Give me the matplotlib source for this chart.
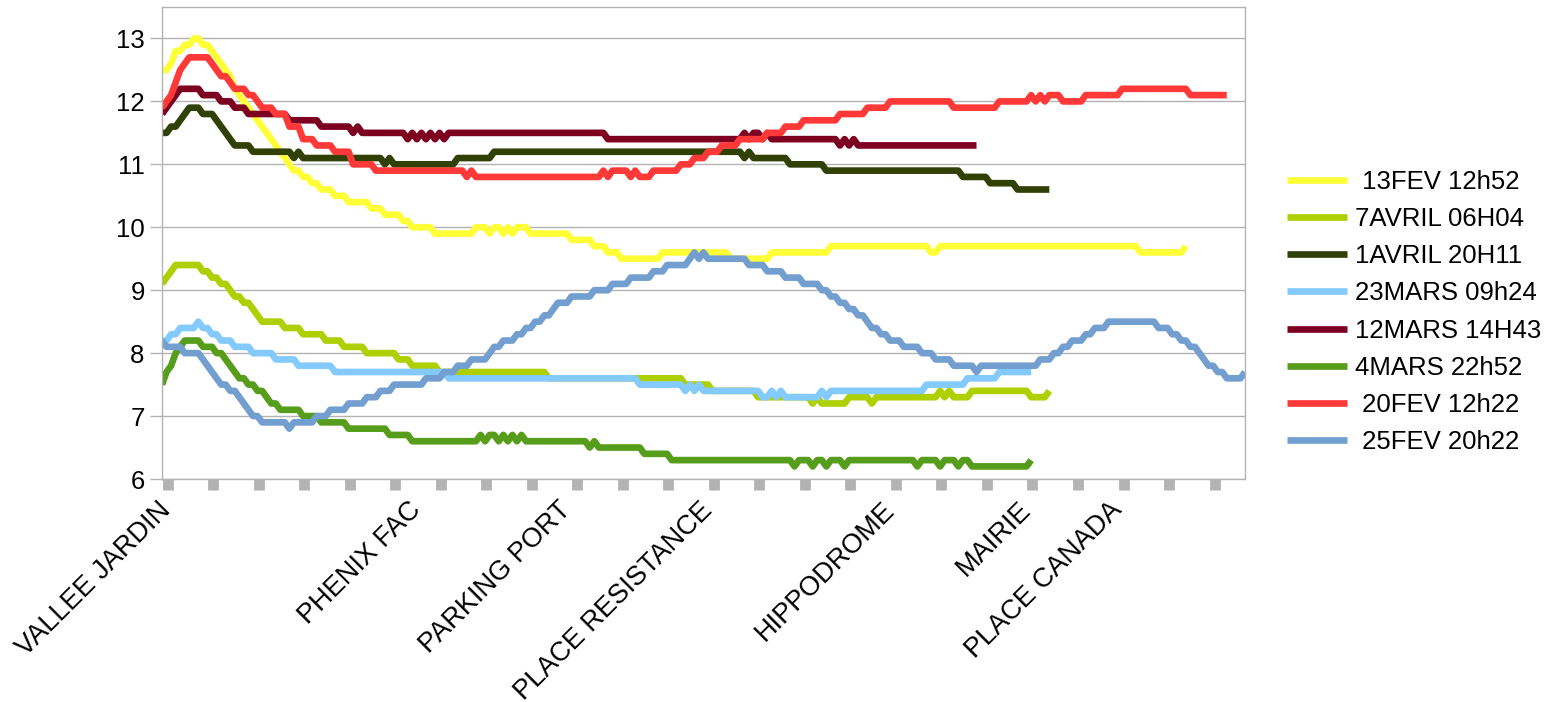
import numpy as np
import matplotlib.pyplot as plt
from matplotlib.transforms import ScaledTranslation

plt.rcParams['font.family'] = ['Liberation Sans', 'DejaVu Sans']

# series names (legend order) and colours
names = [' 13FEV 12h52', '7AVRIL 06H04', '1AVRIL 20H11', '23MARS 09h24',
         '12MARS 14H43', '4MARS 22h52', ' 20FEV 12h22', ' 25FEV 20h22']
colors = ['#ffff38', '#aecf00', '#314004', '#83caff',
          '#7e0021', '#579d1c', '#ff3838', '#729fcf']

# readings along the route, stored as (value, number of samples) runs
fev13_val = [12.5, 12.6, 12.8, 12.9, 13.0, 12.9, 12.8, 12.7, 12.6, 12.5, 12.4, 12.2, 12.1, 12.0,
             11.9, 11.8, 11.7, 11.6, 11.5, 11.4, 11.3, 11.2, 11.1, 11.0, 10.9, 10.8, 10.7, 10.6,
             10.5, 10.4, 10.3, 10.2, 10.1, 10.0, 9.9, 10.0, 9.9, 10.0, 9.9, 10.0, 9.9, 10.0,
             9.9, 9.8, 9.7, 9.6, 9.5, 9.6, 9.5, 9.6, 9.7, 9.6, 9.7, 9.6, 9.7]
fev13_cnt = [2, 1, 2, 2, 2, 2, 1, 1, 1, 1, 1, 1, 1, 1,
             1, 1, 1, 1, 1, 1, 1, 1, 1, 1, 2, 2, 2, 3,
             3, 5, 3, 4, 2, 5, 9, 3, 1, 2, 1, 1, 1, 3,
             9, 5, 3, 3, 9, 15, 9, 13, 22, 2, 44, 10, 1]

avr7_val = [9.1, 9.2, 9.3, 9.4, 9.3, 9.2, 9.1, 9.0, 8.9, 8.8, 8.7, 8.6, 8.5, 8.4, 8.3, 8.2,
            8.1, 8.0, 7.9, 7.8, 7.7, 7.6, 7.5, 7.4, 7.3, 7.2, 7.3, 7.2, 7.3, 7.2, 7.3, 7.4,
            7.3, 7.4, 7.3, 7.4, 7.3, 7.4]
avr7_cnt = [1, 1, 1, 6, 2, 2, 2, 1, 2, 2, 1, 1, 5, 4, 5, 4,
            5, 7, 3, 6, 24, 30, 6, 10, 12, 1, 1, 6, 5, 1, 14, 1,
            1, 1, 4, 13, 4, 1]

avr1_val = [11.5, 11.6, 11.7, 11.8, 11.9, 11.8, 11.7, 11.6, 11.5, 11.4, 11.3, 11.2, 11.1, 11.2,
            11.1, 11.0, 11.1, 11.0, 11.1, 11.2, 11.1, 11.2, 11.1, 11.0, 10.9, 10.8, 10.7, 10.6]
avr1_cnt = [2, 2, 1, 1, 3, 3, 1, 1, 1, 1, 4, 9, 1, 1,
            18, 1, 1, 14, 8, 55, 1, 1, 8, 8, 30, 6, 6, 8]

mars23_val = [8.2, 8.3, 8.4, 8.5, 8.4, 8.3, 8.2, 8.1, 8.0, 7.9, 7.8, 7.7, 7.6, 7.5, 7.4, 7.5,
              7.4, 7.5, 7.4, 7.3, 7.4, 7.3, 7.4, 7.3, 7.4, 7.3, 7.4, 7.5, 7.6, 7.7]
mars23_cnt = [2, 2, 4, 1, 2, 2, 3, 4, 5, 5, 8, 25, 42, 10, 1, 1,
              1, 1, 13, 2, 1, 1, 1, 8, 1, 1, 21, 9, 7, 8]

mars12_val = [11.8, 11.9, 12.0, 12.1, 12.2, 12.1, 12.0, 11.9, 11.8, 11.7, 11.6, 11.5, 11.6, 11.5,
              11.4, 11.5, 11.4, 11.5, 11.4, 11.5, 11.4, 11.5, 11.4, 11.5, 11.4, 11.5, 11.4, 11.5,
              11.4, 11.5, 11.4, 11.3, 11.4, 11.3, 11.4, 11.3]
mars12_cnt = [1, 1, 1, 1, 5, 4, 3, 3, 9, 7, 7, 1, 1, 10,
              1, 1, 1, 1, 1, 1, 1, 1, 1, 35, 30, 1, 1, 2,
              1, 1, 15, 1, 1, 1, 1, 27]

mars4_val = [7.5, 7.7, 7.8, 8.0, 8.1, 8.2, 8.1, 8.0, 7.9, 7.8, 7.7, 7.6, 7.5, 7.4, 7.3, 7.2,
             7.1, 7.0, 6.9, 6.8, 6.7, 6.6, 6.7, 6.6, 6.7, 6.6, 6.7, 6.6, 6.7, 6.6, 6.7, 6.6,
             6.5, 6.6, 6.5, 6.4, 6.3, 6.2, 6.3, 6.2, 6.3, 6.2, 6.3, 6.2, 6.3, 6.2, 6.3, 6.2,
             6.3, 6.2, 6.3, 6.2, 6.3]
mars4_cnt = [1, 1, 1, 1, 1, 4, 3, 2, 1, 1, 1, 2, 2, 2, 1, 2,
             5, 4, 6, 9, 5, 15, 1, 1, 2, 1, 1, 1, 1, 1, 1, 14,
             1, 1, 10, 6, 27, 1, 3, 1, 2, 1, 3, 1, 15, 1, 4, 1,
             3, 1, 2, 13, 1]

fev20_val = [11.9, 12.0, 12.1, 12.3, 12.5, 12.6, 12.7, 12.6, 12.5, 12.4, 12.3, 12.2, 12.1, 12.0,
             11.9, 11.8, 11.6, 11.4, 11.3, 11.2, 11.0, 10.9, 10.8, 10.9, 10.8, 10.9, 10.8, 10.9,
             10.8, 10.9, 10.8, 10.9, 11.0, 11.1, 11.2, 11.3, 11.4, 11.5, 11.6, 11.7, 11.8, 11.9,
             12.0, 11.9, 12.0, 12.1, 12.0, 12.1, 12.0, 12.1, 12.0, 12.1, 12.2, 12.1]
fev20_cnt = [1, 1, 1, 1, 1, 1, 5, 1, 1, 2, 1, 3, 2, 1,
             3, 3, 3, 3, 4, 4, 5, 20, 1, 1, 28, 1, 1, 4,
             1, 1, 3, 6, 3, 3, 3, 4, 6, 4, 4, 8, 6, 5,
             14, 10, 7, 1, 1, 1, 1, 3, 5, 8, 15, 9]

fev25_val = [8.2, 8.1, 8.0, 7.9, 7.8, 7.7, 7.6, 7.5, 7.4, 7.3, 7.2, 7.1, 7.0, 6.9, 6.8, 6.9,
             7.0, 7.1, 7.2, 7.3, 7.4, 7.5, 7.6, 7.7, 7.8, 7.9, 8.0, 8.1, 8.2, 8.3, 8.4, 8.5,
             8.6, 8.7, 8.8, 8.9, 9.0, 9.1, 9.2, 9.3, 9.4, 9.5, 9.6, 9.5, 9.6, 9.5, 9.4, 9.3,
             9.2, 9.1, 9.0, 8.9, 8.8, 8.7, 8.6, 8.5, 8.4, 8.3, 8.2, 8.1, 8.0, 7.9, 7.8, 7.7,
             7.8, 7.9, 8.0, 8.1, 8.2, 8.3, 8.4, 8.5, 8.4, 8.3, 8.2, 8.1, 8.0, 7.9, 7.8, 7.7,
             7.6, 7.7]
fev25_cnt = [1, 4, 4, 1, 1, 1, 1, 2, 2, 1, 1, 1, 2, 6, 1, 5,
             3, 4, 4, 3, 3, 7, 4, 3, 3, 4, 1, 2, 3, 2, 2, 2,
             2, 1, 3, 5, 4, 4, 5, 3, 5, 1, 1, 1, 1, 9, 4, 4,
             4, 4, 2, 2, 2, 2, 2, 1, 2, 2, 3, 4, 3, 4, 5, 1,
             13, 3, 2, 2, 3, 2, 3, 11, 3, 2, 2, 2, 1, 1, 2, 2,
             4, 1]

runs = [(fev13_val, fev13_cnt), (avr7_val, avr7_cnt), (avr1_val, avr1_cnt),
        (mars23_val, mars23_cnt), (mars12_val, mars12_cnt), (mars4_val, mars4_cnt),
        (fev20_val, fev20_cnt), (fev25_val, fev25_cnt)]

# bus stops along the route (sample index, name)
stop_pos = [1, 56, 89, 120, 160, 190, 210]
stop_names = ['VALLEE JARDIN', 'PHENIX FAC', 'PARKING PORT', 'PLACE RESISTANCE',
              'HIPPODROME', 'MAIRIE', 'PLACE CANADA']
n_samples = 239

fig = plt.figure(figsize=(15.5, 7.02), dpi=100)
ax = fig.add_axes([162/1550, 1-479/702, 1083/1550, 472/702])

for (vals, cnts), name, col in zip(runs, names, colors):
    y = np.repeat(vals, cnts)
    ax.plot(np.arange(len(y)), y, color=col, lw=4.8, label=name,
            solid_joinstyle='round', solid_capstyle='butt')

ax.set_xlim(0, n_samples - 1)
ax.set_ylim(6, 13.5)
ax.set_yticks(range(6, 14))
ax.grid(axis='y', color='#b3b3b3', lw=1)
ax.set_axisbelow(True)
for sp in ax.spines.values():
    sp.set_color('#b3b3b3')
    sp.set_linewidth(1)

ax.tick_params(axis='y', length=8.5, width=1, color='#b3b3b3', labelsize=18.5, pad=4)

# grey square tick marks every 10 samples
ax.set_xticks(np.arange(1.3, n_samples - 1, 10), minor=True)
ax.tick_params(axis='x', which='minor', length=8, width=7.8, color='#b3b3b3')
ax.set_xticks(stop_pos)
ax.set_xticklabels(stop_names, rotation=45, ha='right', rotation_mode='anchor', fontsize=19.5)
ax.tick_params(axis='x', which='major', length=0, pad=13)
shift = ScaledTranslation(-9/100, 0, fig.dpi_scale_trans)
for lbl in ax.get_xticklabels():
    lbl.set_transform(lbl.get_transform() + shift)

fig.legend(loc='center left', bbox_to_anchor=(1287/1550, 1-312/702), frameon=False,
           fontsize=18.5, handlelength=2.33, handletextpad=0.32, labelspacing=0.51,
           borderpad=0, borderaxespad=0)

fig.savefig('out.png', dpi=100)
